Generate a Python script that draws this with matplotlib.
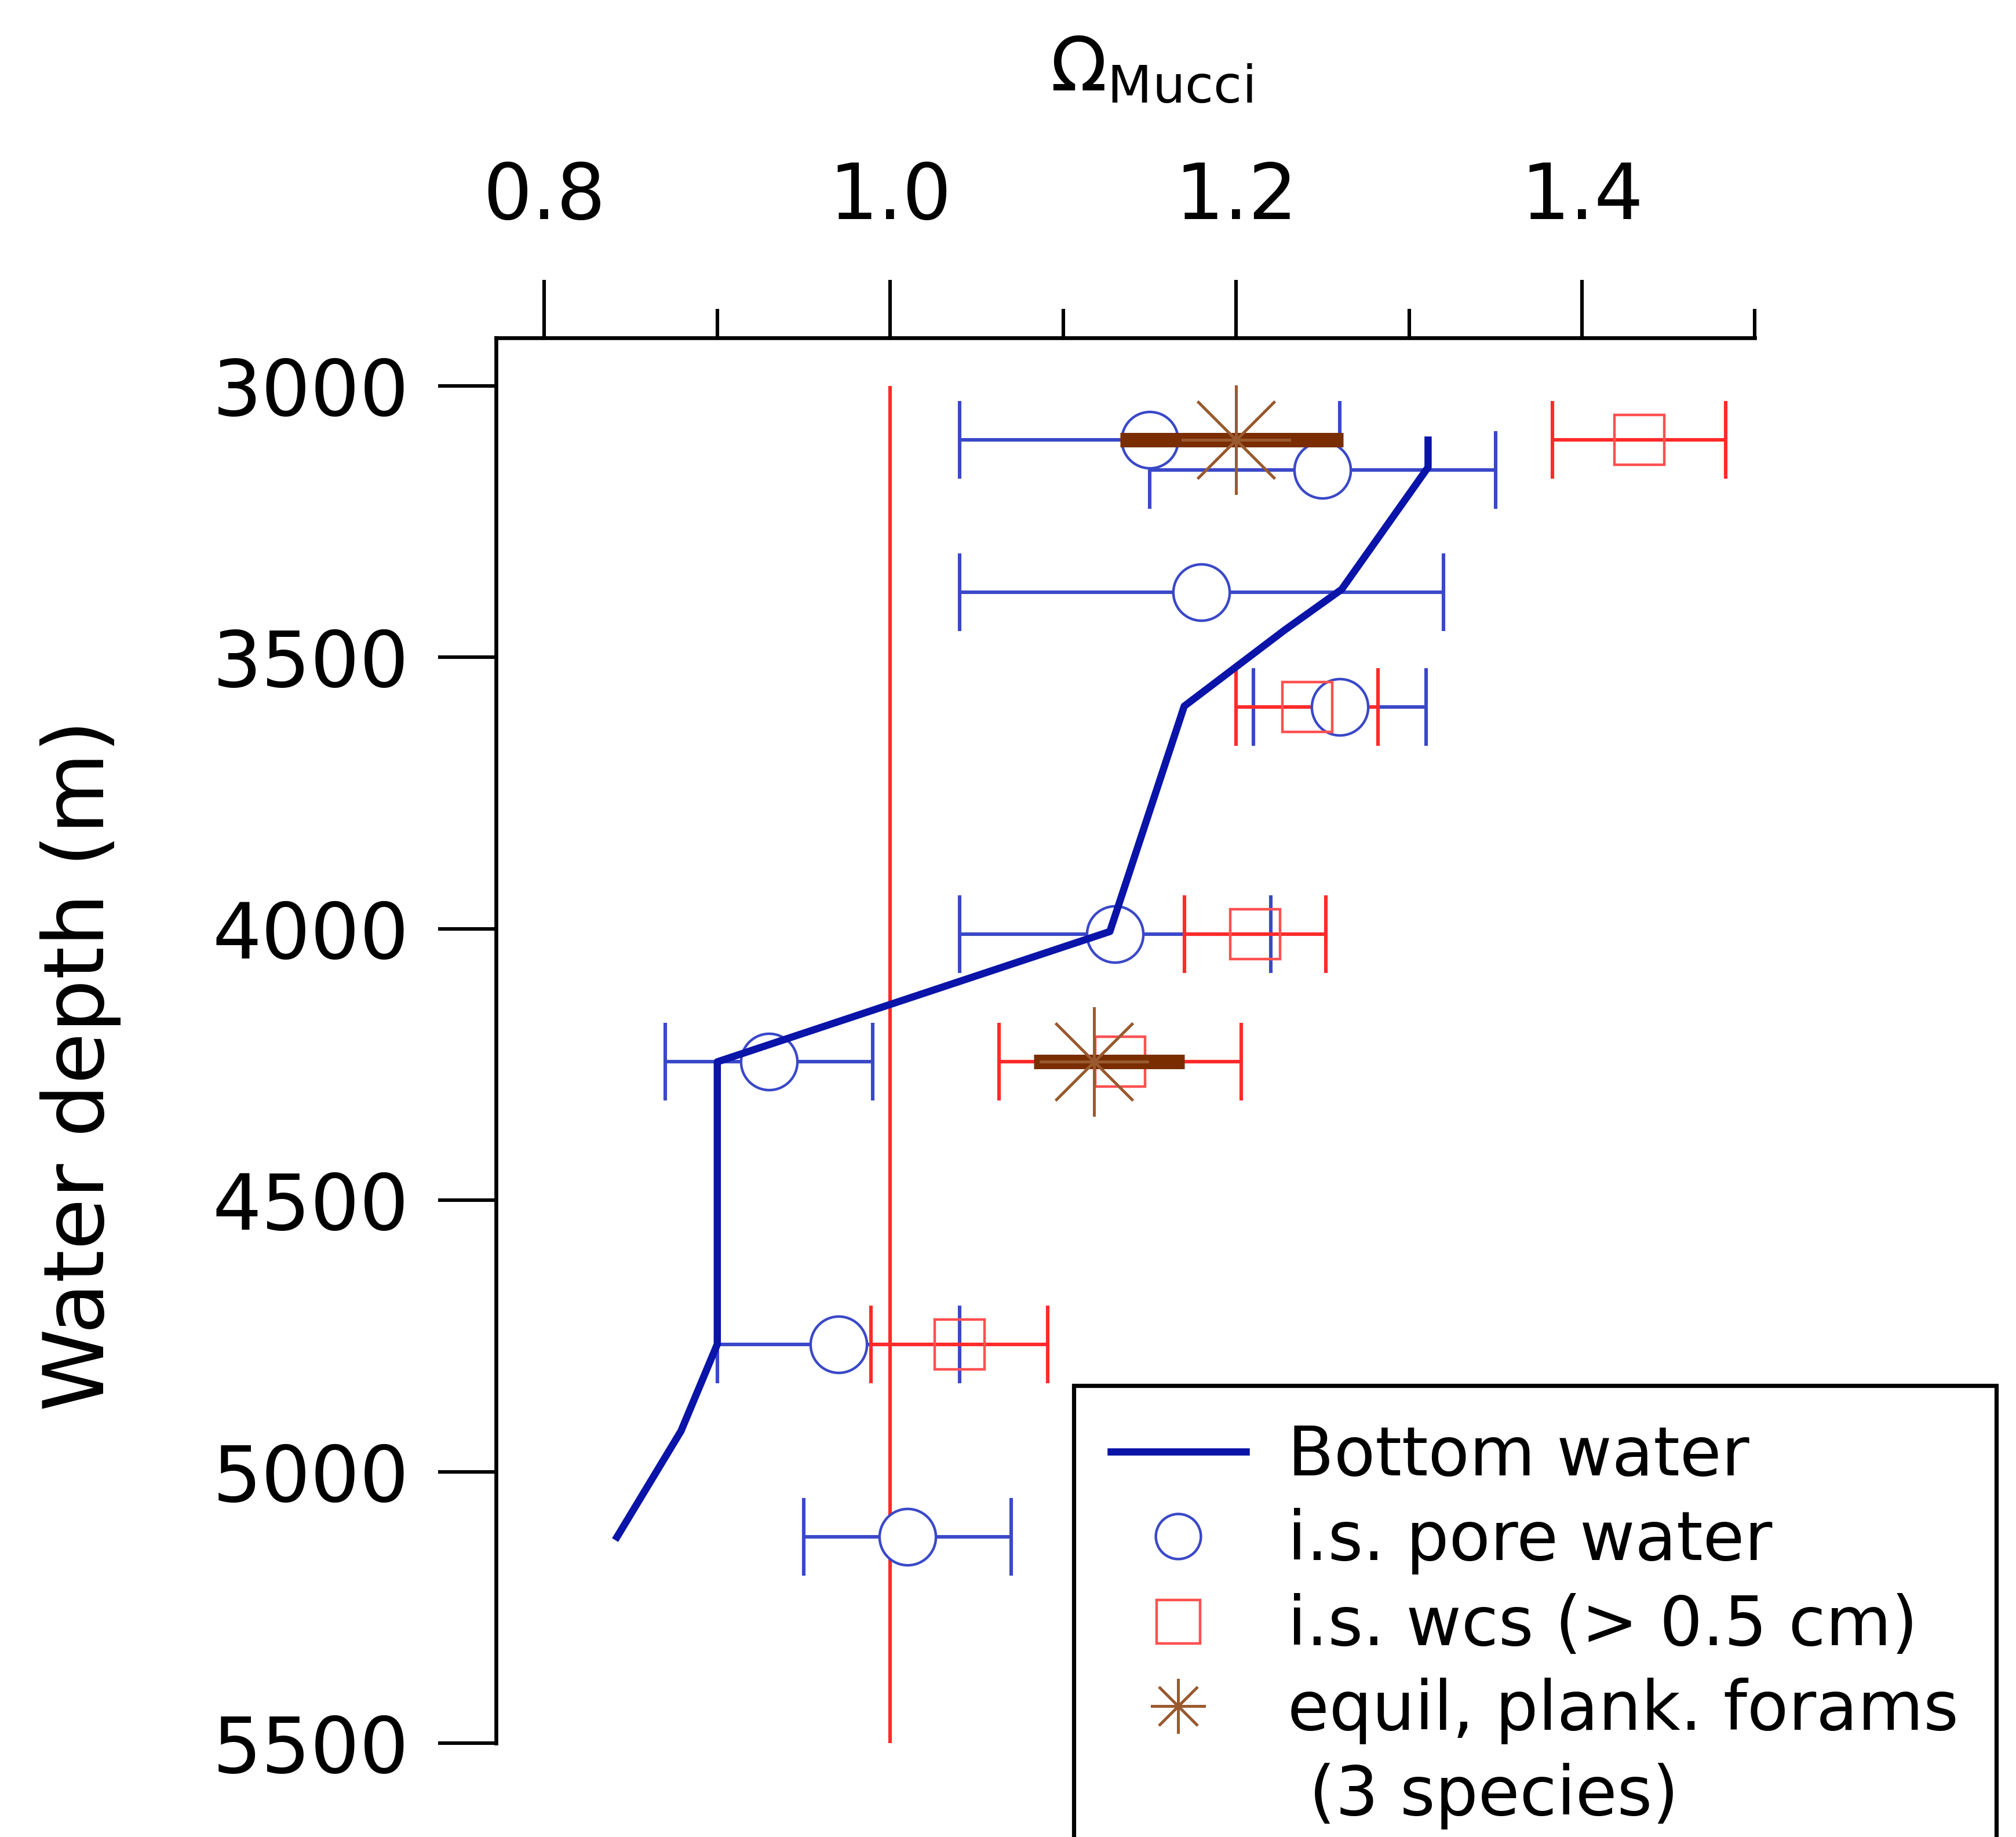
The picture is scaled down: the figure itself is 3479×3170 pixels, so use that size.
import numpy as np
import matplotlib
matplotlib.use('Agg')
from matplotlib import pyplot as plt
from matplotlib.lines import Line2D

plt.rcParams['font.family'] = ['DejaVu Sans']
plt.rcParams['mathtext.fontset'] = 'dejavusans'

# bottom water profile
bw_depth = [3100, 3150, 3375, 3450, 3590, 4005, 4245, 4765, 4925, 5120]
bw_omega = [1.311, 1.311, 1.261, 1.228, 1.170, 1.127, 0.900, 0.900, 0.879, 0.842]

# in situ pore water
pw_depth = [3100, 3155, 3380, 3592, 4010, 4245, 4765, 5120]
pw_omega = [1.15, 1.25, 1.18, 1.26, 1.13, 0.93, 0.97, 1.01]
pw_err = [0.11, 0.10, 0.14, 0.05, 0.09, 0.06, 0.07, 0.06]

# in situ wcs (> 0.5 cm)
wcs_depth = [3100, 3592, 4010, 4245, 4765]
wcs_omega = [1.433, 1.241, 1.211, 1.133, 1.040]
wcs_err = [0.05, 0.041, 0.041, 0.07, 0.051]

# equilibrium plankt. forams
fo_depth = [3100, 4245]
fo_omega = [1.20, 1.118]
fo_lo = [1.133, 1.083]
fo_hi = [1.262, 1.170]

xticks_major = [0.8, 1.0, 1.2, 1.4]
xticks_minor = [0.9, 1.1, 1.3, 1.5]
yticks = [3000, 3500, 4000, 4500, 5000, 5500]

blue = '#0a14a8'
lblue = '#3a48c8'
red = '#ff2a2a'
brown = '#7a2e00'
star_c = '#9a5a30'

fig = plt.figure(figsize=(3479/200, 3170/200), dpi=200)
ax = fig.add_axes([0.246, 0.051, 0.6245, 0.765])

ax.vlines(1.0, 3000, 5500, color=red, lw=2.2, zorder=1)

ax.errorbar(pw_omega, pw_depth, xerr=pw_err, fmt='none', ecolor=lblue,
            elinewidth=2.2, capsize=24, capthick=2.2, zorder=2)
ax.errorbar(wcs_omega, wcs_depth, xerr=wcs_err, fmt='none', ecolor=red,
            elinewidth=2.2, capsize=24, capthick=2.2, zorder=3)
ax.plot(pw_omega, pw_depth, 'o', ms=35, mfc='white', mec=lblue, mew=1.6,
        zorder=4)
ax.plot(wcs_omega, wcs_depth, 's', ms=31, mfc='none', mec='#ff5050', mew=1.6,
        zorder=5)
ax.plot(bw_omega, bw_depth, '-', color=blue, lw=4.5, zorder=6,
        solid_joinstyle='round')
ax.hlines(fo_depth, fo_lo, fo_hi, color=brown, lw=9, zorder=7)
ax.plot(fo_omega, fo_depth, marker=(8, 2, 0), ls='none', ms=68, mec=star_c,
        mew=1.6, zorder=8)

ax.set_xlim(0.772, 1.5)
ax.set_ylim(5500, 2912)

ax.xaxis.tick_top()
ax.set_xticks(xticks_major)
ax.set_xticks(xticks_minor, minor=True)
ax.set_xticklabels(['0.8', '1.0', '1.2', '1.4'])
ax.set_yticks(yticks)
ax.tick_params(axis='x', which='major', direction='out', length=36, width=2.2,
               labelsize=48, pad=28)
ax.tick_params(axis='x', which='minor', direction='out', length=18, width=2.2)
ax.tick_params(axis='y', direction='out', length=36, width=2.2, labelsize=48,
               pad=18)
ax.spines['bottom'].set_visible(False)
ax.spines['right'].set_visible(False)
ax.spines['top'].set_linewidth(2.4)
ax.spines['left'].set_linewidth(2.4)

fig.text(0.571, 0.962, r'$\Omega_{\mathrm{Mucci}}$', fontsize=46,
         ha='center', va='center')
fig.text(0.04, 0.42, 'Water depth (m)', fontsize=52, rotation=90,
         ha='center', va='center')

handles = [
    Line2D([], [], color=blue, lw=4.5),
    Line2D([], [], marker='o', ls='none', ms=28, mfc='white', mec=lblue, mew=1.6),
    Line2D([], [], marker='s', ls='none', ms=27, mfc='none', mec='#ff5050', mew=1.6),
    Line2D([], [], marker=(8, 2, 0), ls='none', ms=34, mec=star_c, mew=1.6),
    Line2D([], [], ls='none'),
]
labels = ['Bottom water', 'i.s. pore water', 'i.s. wcs (> 0.5 cm)',
          'equil, plank. forams', ' (3 species)']
leg = fig.legend(handles, labels, loc='upper left', bbox_to_anchor=(0.5325, 0.2456),
                 fontsize=42, frameon=True, fancybox=False, framealpha=1,
                 edgecolor='black', handlelength=2.0, handletextpad=0.62,
                 labelspacing=0.27, borderpad=0.55, borderaxespad=0)
leg.get_frame().set_linewidth(2.6)

fig.savefig('out.png', dpi=200)
